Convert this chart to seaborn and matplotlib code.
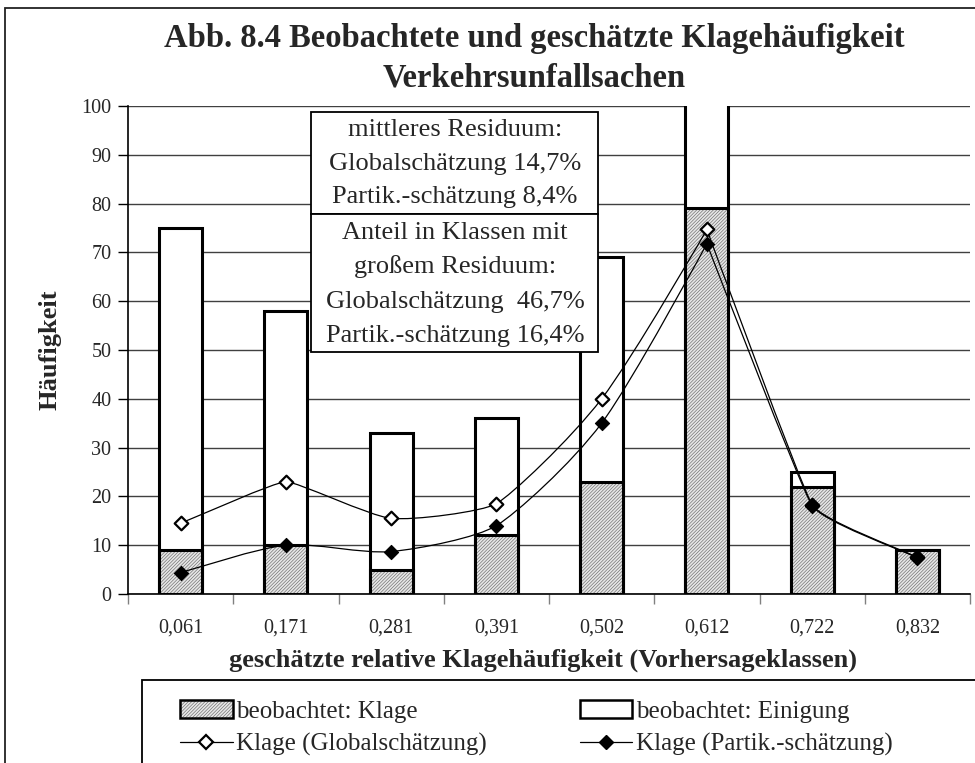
import numpy as np
import pandas as pd
import matplotlib
matplotlib.use("Agg")
import matplotlib.pyplot as plt
import seaborn as sns
from matplotlib.path import Path
from matplotlib.patches import PathPatch, Rectangle, Patch
from matplotlib.lines import Line2D

# ---------------- data ----------------
categories = ["0,061", "0,171", "0,281", "0,391", "0,502", "0,612", "0,722", "0,832"]
klage = [9, 10, 5, 12, 23, 79, 22, 9]            # beobachtet: Klage
einigung = [66, 48, 28, 24, 46, 51, 3, 0]        # beobachtet: Einigung (stacked on top)
global_est = [14.5, 23.0, 15.5, 18.5, 40.0, 74.7, 18.3, 7.5]   # Klage (Globalschätzung)
partik_est = [4.4, 10.0, 8.7, 14.0, 35.0, 71.8, 18.1, 7.4]     # Klage (Partik.-schätzung)
yticks = list(range(0, 101, 10))

title1 = "Abb. 8.4 Beobachtete und geschätzte Klagehäufigkeit"
title2 = "Verkehrsunfallsachen"
xlabel = "geschätzte relative Klagehäufigkeit (Vorhersageklassen)"
ylabel = "Häufigkeit"
box1_lines = ["mittleres Residuum:", "Globalschätzung 14,7%", "Partik.-schätzung 8,4%"]
box2_lines = ["Anteil in Klassen mit", "großem Residuum:", "Globalschätzung  46,7%",
              "Partik.-schätzung 16,4%"]
legend_labels = ["beobachtet: Klage", "Klage (Globalschätzung)",
                 "beobachtet: Einigung", "Klage (Partik.-schätzung)"]

# ---------------- style ----------------
sns.set_style("white")
plt.rcParams["font.family"] = ["Liberation Serif", "DejaVu Serif"]
plt.rcParams["hatch.linewidth"] = 0.45

W, H = 975, 763
def fx(px): return px / W
def fy(py): return 1 - py / H

HATCH = "/" * 10
HATCH_FACE = "#e6e6e6"
HATCH_EDGE = "#6a6a6a"

fig = plt.figure(figsize=(W / 100, H / 100), dpi=100)
ax = fig.add_axes([fx(128), fy(594), fx(970) - fx(128), fy(106) - fy(594)])

df = pd.DataFrame({"cat": categories, "klage": klage,
                   "total": [k + e for k, e in zip(klage, einigung)]})

BW = 0.41
sns.barplot(data=df, x="cat", y="total", color="white", saturation=1, edgecolor="black",
            linewidth=2.2, width=BW, errorbar=None, ax=ax, zorder=2)
sns.barplot(data=df, x="cat", y="klage", color=HATCH_FACE, saturation=1, edgecolor=HATCH_EDGE,
            hatch=HATCH, linewidth=0, width=BW, errorbar=None, ax=ax, zorder=3)
sns.barplot(data=df, x="cat", y="klage", fill=False, color="black", edgecolor="black",
            linewidth=2.2, width=BW, errorbar=None, ax=ax, zorder=4)

ax.set_xlim(-0.5, 7.5)
ax.set_ylim(0, 100)

# lightly smoothed connecting lines (sharp at strong turns, smooth where nearly straight)
def smooth_path(ys):
    pts = np.column_stack([np.arange(len(ys)), ys]).astype(float)
    disp = ax.transData.transform(pts)
    n = len(pts)
    tang = np.zeros_like(pts)
    for i in range(n):
        p0 = pts[max(i - 1, 0)]
        p2 = pts[min(i + 1, n - 1)]
        t = (p2 - p0) / 6
        if 0 < i < n - 1:
            a = disp[i] - disp[i - 1]
            b = disp[i + 1] - disp[i]
            c = np.dot(a, b) / (np.linalg.norm(a) * np.linalg.norm(b))
            t = t * max(c, 0) ** 4
        tang[i] = t
    verts = [pts[0]]
    codes = [Path.MOVETO]
    for i in range(n - 1):
        verts += [pts[i] + tang[i], pts[i + 1] - tang[i + 1], pts[i + 1]]
        codes += [Path.CURVE4] * 3
    return Path(verts, codes)

for ys in (global_est, partik_est):
    ax.add_patch(PathPatch(smooth_path(ys), fill=False, edgecolor="black", lw=0.9, zorder=5))

sns.scatterplot(x=categories, y=global_est, marker="D", s=48, facecolor="white",
                edgecolor="black", linewidth=1.6, ax=ax, zorder=6)
sns.scatterplot(x=categories, y=partik_est, marker="D", s=52, color="black",
                edgecolor="black", linewidth=0.8, ax=ax, zorder=7)

# axes formatting
ax.set_xlim(-0.5, 7.5)
ax.set_ylim(0, 100)
ax.set_yticks(yticks)
ax.yaxis.grid(True, color="#404040", lw=1)
ax.xaxis.grid(False)
ax.set_axisbelow(True)
sns.despine(ax=ax, top=True, right=True)
for s in ("left", "bottom"):
    ax.spines[s].set_color("black")
    ax.spines[s].set_linewidth(1.2)
ax.tick_params(axis="y", length=7, width=1, color="black", labelsize=14.5, pad=5, left=True)
ax.tick_params(axis="x", which="major", length=0, labelsize=14.5, pad=18)
ax.set_xticks(np.arange(-0.5, 8, 1), minor=True)
ax.tick_params(axis="x", which="minor", length=7, width=1, color="#808080",
               direction="out", bottom=True)
ax.set_xlabel("")
ax.set_ylabel("")

# titles / labels
fig.text(fx(534), fy(39), title1, fontsize=23.5, weight="bold", ha="center", va="center")
fig.text(fx(534), fy(78), title2, fontsize=23.5, weight="bold", ha="center", va="center")
fig.text(fx(50), fy(350), ylabel, fontsize=19, weight="bold", rotation=90,
         ha="center", va="center")
fig.text(fx(543), fy(660), xlabel, fontsize=19, weight="bold", ha="center", va="center")

# annotation boxes
def add_box(x0, y0, x1, y1):
    fig.add_artist(Rectangle((fx(x0), fy(y1)), fx(x1) - fx(x0), fy(y0) - fy(y1),
                             transform=fig.transFigure, facecolor="white",
                             edgecolor="black", lw=1.3, zorder=10))
add_box(311, 112, 598, 214)
add_box(311, 214, 598, 352)
for txt, py in zip(box1_lines + box2_lines, [130, 164, 197, 233, 267, 302, 336]):
    fig.text(fx(455), fy(py), txt, fontsize=19, ha="center", va="center", zorder=11)

# outer frame
fig.add_artist(Rectangle((fx(5), -0.2), 1.5, fy(8) + 0.2, transform=fig.transFigure,
                         fill=False, edgecolor="#222222", lw=1.3, zorder=0))

# legend
fig.add_artist(Rectangle((fx(142), -0.2), 1.5, fy(680) + 0.2, transform=fig.transFigure,
                         facecolor="white", edgecolor="black", lw=1.3, zorder=10))
h_klage = (Patch(facecolor=HATCH_FACE, edgecolor=HATCH_EDGE, hatch=HATCH, lw=0),
           Patch(fill=False, edgecolor="black", lw=1.8))
h_ein = Patch(facecolor="white", edgecolor="black", lw=1.8)
h_glob = Line2D([], [], color="black", lw=0.9, marker="D", ms=7, mfc="white",
                mec="black", mew=1.6)
h_part = Line2D([], [], color="black", lw=0.9, marker="D", ms=7, mfc="black", mec="black")
leg = fig.legend([h_klage, h_glob, h_ein, h_part], legend_labels, ncol=2,
                 loc="upper left", bbox_to_anchor=(fx(180), fy(700)), frameon=False,
                 fontsize=18, handlelength=2.1, handleheight=0.75, handletextpad=0.15,
                 columnspacing=3.7, labelspacing=0.4, borderpad=0, borderaxespad=0)
leg.set_zorder(12)

fig.savefig("out.png", dpi=100)
